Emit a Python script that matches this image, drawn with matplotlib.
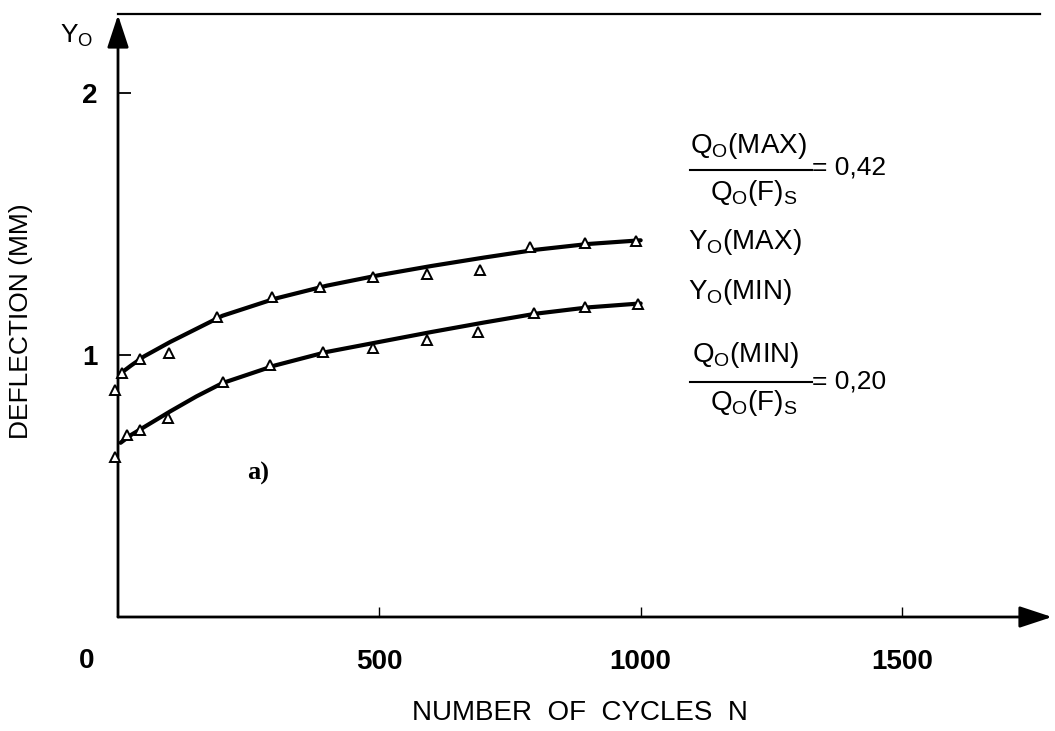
import matplotlib
matplotlib.use("Agg")
import matplotlib.pyplot as plt

plt.rcParams["font.family"] = ["Liberation Sans", "DejaVu Sans"]
plt.rcParams["mathtext.fontset"] = "custom"
plt.rcParams["mathtext.rm"] = "Liberation Sans"
plt.rcParams["mathtext.it"] = "Liberation Sans"

# measured triangles (N, deflection in mm)
n_max = [-5, 7, 42, 98, 189, 294, 386, 488, 591, 693, 788, 893, 992]
y_max = [0.866, 0.93, 0.984, 1.006, 1.146, 1.222, 1.261, 1.297, 1.309, 1.324, 1.413, 1.429, 1.436]
n_min = [-5, 17, 42, 96, 201, 291, 393, 488, 591, 689, 795, 893, 995]
y_min = [0.612, 0.695, 0.714, 0.758, 0.898, 0.962, 1.013, 1.025, 1.057, 1.089, 1.161, 1.182, 1.195]

# hand-drawn trend curves
n_curve = [5, 25, 50, 100, 150, 200, 300, 400, 500, 600, 700, 800, 900, 1000]
curve_max = [0.93, 0.96, 0.995, 1.05, 1.10, 1.15, 1.215, 1.265, 1.305, 1.34, 1.372, 1.402, 1.424, 1.438]
curve_min = [0.665, 0.695, 0.725, 0.785, 0.842, 0.893, 0.96, 1.012, 1.05, 1.088, 1.124, 1.158, 1.182, 1.197]

x_ticks = [500, 1000, 1500]
y_ticks = [1, 2]

W, H = 1055, 731
fig = plt.figure(figsize=(W / 100, H / 100), dpi=100)
ax = fig.add_axes([118 / W, (H - 617) / H, (1052 - 118) / W, (617 - 15) / H])
ax.set_xlim(0, 1787)
ax.set_ylim(0, 2.298)
for s in ax.spines.values():
    s.set_visible(False)

# axes drawn as arrows
arrow = dict(arrowstyle="-|>,head_length=1.0,head_width=0.33", mutation_scale=20,
             lw=2.0, color="black", shrinkA=0, shrinkB=0)
ax.annotate("", xy=(0, 1), xytext=(0, 0), xycoords="axes fraction", arrowprops=arrow)
ax.annotate("", xy=(1, 0), xytext=(0, 0), xycoords="axes fraction", arrowprops=arrow)
ax.plot([0, 0.987], [1.0015, 1.0015], transform=ax.transAxes, color="black", lw=1.6,
        clip_on=False)

ax.plot(n_curve, curve_max, color="black", lw=3.0, solid_capstyle="round", zorder=2)
ax.plot(n_curve, curve_min, color="black", lw=3.0, solid_capstyle="round", zorder=2)
ax.plot(n_max, y_max, ls="none", marker="^", ms=7.5, mfc="white", mec="black", mew=1.4,
        clip_on=False, zorder=3)
ax.plot(n_min, y_min, ls="none", marker="^", ms=7.5, mfc="white", mec="black", mew=1.4,
        clip_on=False, zorder=3)

ax.set_xticks(x_ticks)
ax.set_xticklabels([str(v) for v in x_ticks])
ax.set_yticks(y_ticks)
ax.set_yticklabels([str(v) for v in y_ticks])
ax.tick_params(axis="x", direction="in", length=7, width=1, pad=23, labelsize=20)
ax.tick_params(axis="y", direction="in", length=9, width=1.3, pad=15, labelsize=20)
for lab in ax.get_xticklabels() + ax.get_yticklabels():
    lab.set_fontweight("bold")

# the zero label sits left of the origin
ax.annotate("0", xy=(0, 0), xycoords="data", xytext=(-31, -44), textcoords="offset pixels",
            ha="center", va="center", fontsize=20, fontweight="bold")


def px(x, y):
    return x / W, 1 - y / H


fig.text(*px(580, 713), "NUMBER  OF  CYCLES  N", ha="center", va="center", fontsize=20)
fig.text(*px(21, 321), "DEFLECTION (MM)", ha="center", va="center", rotation=90, fontsize=19)
fig.text(*px(77, 36), r"$\mathrm{Y_O}$", ha="center", va="center", fontsize=19)
fig.text(*px(258, 473), "a)", ha="center", va="center", fontsize=19, fontweight="bold",
         family="Liberation Serif")

# ratio annotations on the right
fs = 20
fig.text(*px(748, 146), r"$\mathrm{Q_O(MAX)}$", ha="center", va="center", fontsize=fs)
fig.add_artist(plt.Line2D([690 / W, 812 / W], [1 - 170 / H, 1 - 170 / H], color="black", lw=1.5))
fig.text(*px(754, 193), r"$\mathrm{Q_O(F)_S}$", ha="center", va="center", fontsize=fs)
fig.text(*px(812, 168), "= 0,42", ha="left", va="center", fontsize=fs - 1)

fig.text(*px(688, 242), r"$\mathrm{Y_O(MAX)}$", ha="left", va="center", fontsize=fs)
fig.text(*px(688, 292), r"$\mathrm{Y_O(MIN)}$", ha="left", va="center", fontsize=fs)

fig.text(*px(746, 355), r"$\mathrm{Q_O(MIN)}$", ha="center", va="center", fontsize=fs)
fig.add_artist(plt.Line2D([690 / W, 812 / W], [1 - 382 / H, 1 - 382 / H], color="black", lw=1.5))
fig.text(*px(754, 403), r"$\mathrm{Q_O(F)_S}$", ha="center", va="center", fontsize=fs)
fig.text(*px(812, 382), "= 0,20", ha="left", va="center", fontsize=fs - 1)

fig.savefig("out.png", dpi=100)
